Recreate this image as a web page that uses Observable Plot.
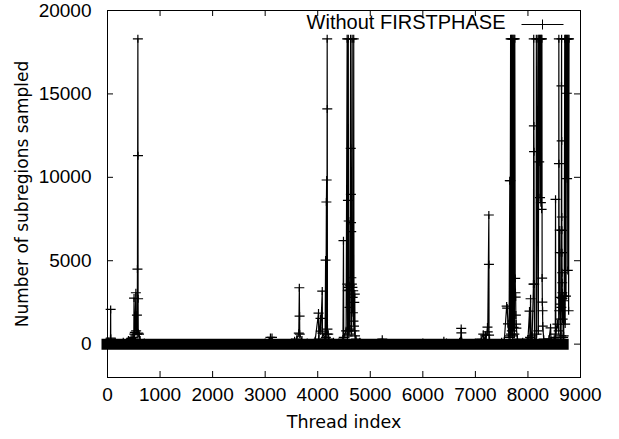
<!DOCTYPE html>
<html><head><meta charset="utf-8">
<script src="https://cdn.jsdelivr.net/npm/d3@7"></script>
<script src="https://cdn.jsdelivr.net/npm/@observablehq/plot@0.6"></script>
<style>
html,body{margin:0;padding:0;background:#fff;}
</style></head><body><div id="chart"></div>
<script>
const seriesName = "Without FIRSTPHASE";
const xLabel = "Thread index";
const yLabel = "Number of subregions sampled";
const xTicks = [0, 1000, 2000, 3000, 4000, 5000, 6000, 7000, 8000, 9000];
const yTicks = [0, 5000, 10000, 15000, 20000];
const xDomain = [0, 9000];
const yDomain = [-2000, 20000];
// threads whose counts stay near zero form the dense band along y = 0
const baselineThreads = [0, 8680];

const threads = [
  0, 20, 57, 60, 62, 65, 150, 300, 400, 450, 480, 500, 505, 510, 520, 540, 545, 560, 565, 570, 578, 580, 582, 585, 600, 620, 700,
  1500, 3000, 3100, 3110, 3130, 3140, 3500, 3560, 3600, 3640, 3650, 3655, 3658, 3700, 3800, 3950,
  4015, 4020, 4053, 4058, 4086, 4090, 4140, 4150, 4155, 4165, 4170, 4175, 4180, 4182, 4185, 4200, 4210, 4300,
  4480, 4490, 4495, 4540, 4560, 4563, 4568, 4572, 4575, 4578, 4582, 4586, 4590, 4594, 4600, 4605, 4610, 4615,
  4625, 4628, 4631, 4634, 4637, 4640, 4644, 4650, 4655, 4660, 4665, 4670, 4675, 4680, 4685, 4690, 4695, 4700, 4705, 4710, 4730, 4800,
  5228, 5240, 6000, 6400, 6450, 6700, 6720, 6730, 6733, 6740, 7000,
  7110, 7150, 7160, 7190, 7200, 7230, 7235, 7256, 7258, 7260, 7270, 7500,
  7550, 7595, 7605, 7620, 7640, 7655, 7660, 7665, 7670, 7678, 7686, 7694, 7702, 7710, 7718, 7726, 7734, 7742, 7750,
  7758, 7762, 7766, 7770, 7775, 7780, 7800, 7900,
  8000, 8030, 8040, 8050, 8060, 8080, 8105, 8110, 8113, 8116, 8120, 8125, 8155, 8160, 8165,
  8190, 8198, 8206, 8214, 8222, 8230, 8238, 8246, 8254, 8260, 8266, 8270, 8274, 8278, 8282, 8300,
  8400, 8430, 8440, 8500, 8520, 8525, 8530, 8560, 8585, 8588, 8590, 8595, 8605, 8608, 8612, 8615, 8620, 8625, 8630, 8635,
  8638, 8640, 8642, 8644, 8646, 8648, 8650, 8652, 8654, 8656, 8660, 8665, 8670, 8675, 8680, 8690,
  8700, 8708, 8716, 8724, 8732, 8740, 8745, 8750, 8758, 8766, 8774, 8782
];
const counts = [
  0, 150, 300, 2080, 360, 100, 100, 150, 250, 350, 400, 300, 2760, 600, 700, 3080, 800, 1740, 600, 4500, 18300, 11300, 2720, 660, 600, 250, 100,
  50, 100, 400, 100, 400, 100, 100, 200, 300, 660, 3380, 1680, 600, 250, 100, 200,
  1860, 300, 1540, 780, 3180, 660, 300, 5040, 400, 8520, 9840, 600, 18300, 14100, 900, 600, 300, 150,
  300, 6200, 400, 800, 18300, 3600, 500, 3200, 8620, 800, 18300, 3400, 7380, 600, 3240, 2200, 3500, 900,
  18300, 11740, 8980, 7280, 6740, 3980, 800, 3600, 18300, 3400, 2800, 1880, 3200, 1380, 18300, 1080, 2500, 800, 3000, 500, 300, 150,
  300, 100, 100, 200, 100, 150, 200, 940, 680, 150, 100,
  300, 600, 150, 540, 200, 1020, 740, 7740, 4780, 540, 200, 150,
  200, 2280, 2160, 1220, 400, 9800, 500, 9800, 18300, 600, 18300, 800, 18300, 500, 18300, 1000, 18300, 600, 18300,
  3940, 3080, 2820, 1740, 1200, 960, 300, 150,
  300, 1980, 400, 2720, 300, 500, 3600, 18300, 13080, 11540, 3600, 200, 200, 18300, 600,
  18300, 800, 18300, 10920, 18300, 8780, 18300, 8480, 18300, 8080, 18300, 3960, 2520, 2000, 1080, 300,
  300, 980, 200, 300, 400, 8680, 600, 1200, 800, 18300, 10820, 2000, 6840, 5480, 1500, 2400, 300, 2800, 500, 2200,
  15480, 18300, 12180, 7620, 6820, 5480, 4280, 3680, 3080, 2740, 1500, 2880, 400, 2600, 500, 2880,
  18300, 1200, 18300, 2880, 18300, 15040, 9920, 18300, 4420, 18300, 2000, 18300
];

const data = threads.map((t, i) => ({thread: t, count: counts[i]}));

// gnuplot-like "+" point marker and legend key
const plusSymbol = {draw(c) { c.moveTo(-5, 0); c.lineTo(5, 0); c.moveTo(0, -4); c.lineTo(0, 4); }};
const keySymbol = {draw(c) { c.moveTo(-21, 0); c.lineTo(21, 0); c.moveTo(0, -5); c.lineTo(0, 5); }};

const tickFont = "'Liberation Sans', Arial, sans-serif";
const labelFont = "'DejaVu Sans', sans-serif";
const plain = d => String(d);

const chart = Plot.plot({
  width: 619,
  height: 439,
  marginLeft: 107,
  marginRight: 39,
  marginTop: 10,
  marginBottom: 62,
  style: {fontFamily: tickFont, fontSize: "19px", background: "#fff", color: "#000"},
  x: {domain: xDomain},
  y: {domain: yDomain},
  marks: [
    Plot.ruleY([0], {x1: baselineThreads[0], x2: baselineThreads[1], stroke: "#000", strokeWidth: 11, strokeLinecap: "square"}),
    Plot.line(data, {x: "thread", y: "count", stroke: "#000", strokeWidth: 1.2}),
    Plot.dot(data, {x: "thread", y: "count", symbol: plusSymbol, fill: "none", stroke: "#000", strokeWidth: 1.2}),
    Plot.frame({stroke: "#000"}),
    // inward ticks on all four sides
    Plot.ruleX(xTicks, {x: d => d, y1: yDomain[0], y2: yDomain[0], insetTop: -6, stroke: "#000"}),
    Plot.ruleX(xTicks, {x: d => d, y1: yDomain[1], y2: yDomain[1], insetBottom: -6, stroke: "#000"}),
    Plot.ruleY(yTicks, {y: d => d, x1: xDomain[0], x2: xDomain[0], insetRight: -6, stroke: "#000"}),
    Plot.ruleY(yTicks, {y: d => d, x1: xDomain[1], x2: xDomain[1], insetLeft: -6, stroke: "#000"}),
    Plot.axisX(xTicks, {anchor: "bottom", tickSize: 0, tickPadding: 10, label: null, tickFormat: plain, fontSize: 19, fill: "#000"}),
    Plot.axisY(yTicks, {anchor: "left", tickSize: 0, tickPadding: 16, label: null, tickFormat: plain, fontSize: 19, fill: "#000"}),
    Plot.text([xLabel], {frameAnchor: "bottom", lineAnchor: "middle", textAnchor: "middle", dy: 45, fontFamily: labelFont, fontSize: 17.5, fill: "#000"}),
    Plot.text([yLabel], {frameAnchor: "left", lineAnchor: "middle", textAnchor: "middle", dx: -85, rotate: -90, fontFamily: labelFont, fontSize: 17, fill: "#000"}),
    Plot.text([seriesName], {frameAnchor: "top-right", textAnchor: "end", lineAnchor: "middle", dx: -75, dy: 12, fontSize: 20, fill: "#000"}),
    Plot.dot([seriesName], {frameAnchor: "top-right", dx: -38, dy: 14, symbol: keySymbol, fill: "none", stroke: "#000", strokeWidth: 1})
  ]
});
document.getElementById("chart").appendChild(chart);
</script>
</body></html>
